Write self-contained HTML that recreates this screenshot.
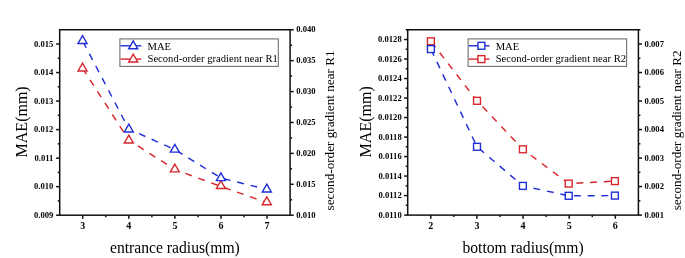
<!DOCTYPE html>
<html><head><meta charset="utf-8"><style>
html,body{margin:0;padding:0;background:#fff;}
svg{display:block;will-change:transform;filter:blur(0.25px);}
text{font-family:"Liberation Serif",serif;fill:#000;}
.tk{font-size:8.6px;font-weight:bold;}
.ti{font-size:16px;}
.xl{font-size:15.65px;}
.xt{font-size:10px;font-weight:bold;}
.lg{font-size:10.6px;}
.rt{font-size:13.2px;}
</style></head><body>
<svg width="685" height="258" viewBox="0 0 685 258">
<rect width="685" height="258" fill="#fff"/>
<rect x="59.7" y="29.75" width="230.40" height="185.45" fill="none" stroke="#111" stroke-width="1.5"/>
<line x1="82.74" y1="215.2" x2="82.74" y2="218.79999999999998" stroke="#111" stroke-width="1.5"/>
<text x="82.74" y="229.0" class="xt" text-anchor="middle">3</text>
<line x1="105.78" y1="215.2" x2="105.78" y2="217.2" stroke="#111" stroke-width="1.5"/>
<line x1="128.82" y1="215.2" x2="128.82" y2="218.79999999999998" stroke="#111" stroke-width="1.5"/>
<text x="128.82" y="229.0" class="xt" text-anchor="middle">4</text>
<line x1="151.86" y1="215.2" x2="151.86" y2="217.2" stroke="#111" stroke-width="1.5"/>
<line x1="174.90" y1="215.2" x2="174.90" y2="218.79999999999998" stroke="#111" stroke-width="1.5"/>
<text x="174.90" y="229.0" class="xt" text-anchor="middle">5</text>
<line x1="197.94" y1="215.2" x2="197.94" y2="217.2" stroke="#111" stroke-width="1.5"/>
<line x1="220.98" y1="215.2" x2="220.98" y2="218.79999999999998" stroke="#111" stroke-width="1.5"/>
<text x="220.98" y="229.0" class="xt" text-anchor="middle">6</text>
<line x1="244.02" y1="215.2" x2="244.02" y2="217.2" stroke="#111" stroke-width="1.5"/>
<line x1="267.06" y1="215.2" x2="267.06" y2="218.79999999999998" stroke="#111" stroke-width="1.5"/>
<text x="267.06" y="229.0" class="xt" text-anchor="middle">7</text>
<line x1="56.1" y1="215.20" x2="59.7" y2="215.20" stroke="#111" stroke-width="1.5"/>
<text x="53.400000000000006" y="217.85" class="tk" text-anchor="end">0.009</text>
<line x1="56.1" y1="186.67" x2="59.7" y2="186.67" stroke="#111" stroke-width="1.5"/>
<text x="53.400000000000006" y="189.32" class="tk" text-anchor="end">0.010</text>
<line x1="56.1" y1="158.14" x2="59.7" y2="158.14" stroke="#111" stroke-width="1.5"/>
<text x="53.400000000000006" y="160.79" class="tk" text-anchor="end">0.011</text>
<line x1="56.1" y1="129.61" x2="59.7" y2="129.61" stroke="#111" stroke-width="1.5"/>
<text x="53.400000000000006" y="132.26" class="tk" text-anchor="end">0.012</text>
<line x1="56.1" y1="101.08" x2="59.7" y2="101.08" stroke="#111" stroke-width="1.5"/>
<text x="53.400000000000006" y="103.73" class="tk" text-anchor="end">0.013</text>
<line x1="56.1" y1="72.55" x2="59.7" y2="72.55" stroke="#111" stroke-width="1.5"/>
<text x="53.400000000000006" y="75.20" class="tk" text-anchor="end">0.014</text>
<line x1="56.1" y1="44.02" x2="59.7" y2="44.02" stroke="#111" stroke-width="1.5"/>
<text x="53.400000000000006" y="46.67" class="tk" text-anchor="end">0.015</text>
<line x1="57.7" y1="200.93" x2="59.7" y2="200.93" stroke="#111" stroke-width="1.5"/>
<line x1="57.7" y1="172.40" x2="59.7" y2="172.40" stroke="#111" stroke-width="1.5"/>
<line x1="57.7" y1="143.87" x2="59.7" y2="143.87" stroke="#111" stroke-width="1.5"/>
<line x1="57.7" y1="115.34" x2="59.7" y2="115.34" stroke="#111" stroke-width="1.5"/>
<line x1="57.7" y1="86.81" x2="59.7" y2="86.81" stroke="#111" stroke-width="1.5"/>
<line x1="57.7" y1="58.28" x2="59.7" y2="58.28" stroke="#111" stroke-width="1.5"/>
<line x1="290.1" y1="215.20" x2="293.70000000000005" y2="215.20" stroke="#111" stroke-width="1.5"/>
<text x="296.3" y="217.85" class="tk">0.010</text>
<line x1="290.1" y1="184.29" x2="293.70000000000005" y2="184.29" stroke="#111" stroke-width="1.5"/>
<text x="296.3" y="186.94" class="tk">0.015</text>
<line x1="290.1" y1="153.38" x2="293.70000000000005" y2="153.38" stroke="#111" stroke-width="1.5"/>
<text x="296.3" y="156.03" class="tk">0.020</text>
<line x1="290.1" y1="122.47" x2="293.70000000000005" y2="122.47" stroke="#111" stroke-width="1.5"/>
<text x="296.3" y="125.12" class="tk">0.025</text>
<line x1="290.1" y1="91.57" x2="293.70000000000005" y2="91.57" stroke="#111" stroke-width="1.5"/>
<text x="296.3" y="94.22" class="tk">0.030</text>
<line x1="290.1" y1="60.66" x2="293.70000000000005" y2="60.66" stroke="#111" stroke-width="1.5"/>
<text x="296.3" y="63.31" class="tk">0.035</text>
<line x1="290.1" y1="29.75" x2="293.70000000000005" y2="29.75" stroke="#111" stroke-width="1.5"/>
<text x="296.3" y="32.40" class="tk">0.040</text>
<line x1="290.1" y1="199.75" x2="292.1" y2="199.75" stroke="#111" stroke-width="1.5"/>
<line x1="290.1" y1="168.84" x2="292.1" y2="168.84" stroke="#111" stroke-width="1.5"/>
<line x1="290.1" y1="137.93" x2="292.1" y2="137.93" stroke="#111" stroke-width="1.5"/>
<line x1="290.1" y1="107.02" x2="292.1" y2="107.02" stroke="#111" stroke-width="1.5"/>
<line x1="290.1" y1="76.11" x2="292.1" y2="76.11" stroke="#111" stroke-width="1.5"/>
<line x1="290.1" y1="45.20" x2="292.1" y2="45.20" stroke="#111" stroke-width="1.5"/>
<text x="174.90" y="252.85" class="xl" text-anchor="middle">entrance radius(mm)</text>
<text transform="translate(26.7,121.88) rotate(-90)" class="ti" text-anchor="middle">MAE(mm)</text>
<text transform="translate(333.6,130.38) rotate(-90)" class="rt" text-anchor="middle">second-order gradient near R1</text>
<polyline points="82.50,68.10 128.80,140.10 174.80,169.50 220.90,186.40 266.80,202.60" fill="none" stroke="#d8262c" stroke-width="1.45" stroke-dasharray="6.9 6.85" stroke-dashoffset="-0.15"/>
<polygon points="82.50,63.20 87.00,71.00 78.00,71.00" fill="#fff" stroke="#d8262c" stroke-width="1.4" stroke-linejoin="miter"/>
<polygon points="128.80,135.20 133.30,143.00 124.30,143.00" fill="#fff" stroke="#d8262c" stroke-width="1.4" stroke-linejoin="miter"/>
<polygon points="174.80,164.10 179.30,171.90 170.30,171.90" fill="#fff" stroke="#d8262c" stroke-width="1.4" stroke-linejoin="miter"/>
<polygon points="220.90,180.70 225.40,188.50 216.40,188.50" fill="#fff" stroke="#d8262c" stroke-width="1.4" stroke-linejoin="miter"/>
<polygon points="266.80,196.90 271.30,204.70 262.30,204.70" fill="#fff" stroke="#d8262c" stroke-width="1.4" stroke-linejoin="miter"/>
<polyline points="82.50,40.60 128.80,129.10 174.80,149.50 220.90,178.00 266.80,189.40" fill="none" stroke="#1f2ed6" stroke-width="1.45" stroke-dasharray="6.9 6.85" stroke-dashoffset="-1.15"/>
<polygon points="82.50,35.70 87.00,43.50 78.00,43.50" fill="#fff" stroke="#1f2ed6" stroke-width="1.4" stroke-linejoin="miter"/>
<polygon points="128.80,124.20 133.30,132.00 124.30,132.00" fill="#fff" stroke="#1f2ed6" stroke-width="1.4" stroke-linejoin="miter"/>
<polygon points="174.80,144.30 179.30,152.10 170.30,152.10" fill="#fff" stroke="#1f2ed6" stroke-width="1.4" stroke-linejoin="miter"/>
<polygon points="220.90,172.80 225.40,180.60 216.40,180.60" fill="#fff" stroke="#1f2ed6" stroke-width="1.4" stroke-linejoin="miter"/>
<polygon points="266.80,184.20 271.30,192.00 262.30,192.00" fill="#fff" stroke="#1f2ed6" stroke-width="1.4" stroke-linejoin="miter"/>
<rect x="119.9" y="38.9" width="158.40" height="27.50" fill="#fff" stroke="#707070" stroke-width="1.1"/>
<line x1="120.5" y1="45.8" x2="141.3" y2="45.8" stroke="#1f2ed6" stroke-width="1.4"/>
<polygon points="133.20,40.90 137.70,48.70 128.70,48.70" fill="#fff" stroke="#1f2ed6" stroke-width="1.4" stroke-linejoin="miter"/>
<text x="147.5" y="50.0" class="lg">MAE</text>
<line x1="120.5" y1="59.1" x2="141.3" y2="59.1" stroke="#d8262c" stroke-width="1.4"/>
<polygon points="133.20,54.20 137.70,62.00 128.70,62.00" fill="#fff" stroke="#d8262c" stroke-width="1.4" stroke-linejoin="miter"/>
<text x="147.5" y="62.4" class="lg">Second-order gradient near R1</text>
<rect x="407.7" y="29.75" width="230.70" height="185.35" fill="none" stroke="#111" stroke-width="1.5"/>
<line x1="430.77" y1="215.1" x2="430.77" y2="218.7" stroke="#111" stroke-width="1.5"/>
<text x="430.77" y="228.9" class="xt" text-anchor="middle">2</text>
<line x1="453.84" y1="215.1" x2="453.84" y2="217.1" stroke="#111" stroke-width="1.5"/>
<line x1="476.91" y1="215.1" x2="476.91" y2="218.7" stroke="#111" stroke-width="1.5"/>
<text x="476.91" y="228.9" class="xt" text-anchor="middle">3</text>
<line x1="499.98" y1="215.1" x2="499.98" y2="217.1" stroke="#111" stroke-width="1.5"/>
<line x1="523.05" y1="215.1" x2="523.05" y2="218.7" stroke="#111" stroke-width="1.5"/>
<text x="523.05" y="228.9" class="xt" text-anchor="middle">4</text>
<line x1="546.12" y1="215.1" x2="546.12" y2="217.1" stroke="#111" stroke-width="1.5"/>
<line x1="569.19" y1="215.1" x2="569.19" y2="218.7" stroke="#111" stroke-width="1.5"/>
<text x="569.19" y="228.9" class="xt" text-anchor="middle">5</text>
<line x1="592.26" y1="215.1" x2="592.26" y2="217.1" stroke="#111" stroke-width="1.5"/>
<line x1="615.33" y1="215.1" x2="615.33" y2="218.7" stroke="#111" stroke-width="1.5"/>
<text x="615.33" y="228.9" class="xt" text-anchor="middle">6</text>
<line x1="404.09999999999997" y1="215.10" x2="407.7" y2="215.10" stroke="#111" stroke-width="1.5"/>
<text x="401.7" y="217.75" class="tk" text-anchor="end">0.0110</text>
<line x1="404.09999999999997" y1="195.59" x2="407.7" y2="195.59" stroke="#111" stroke-width="1.5"/>
<text x="401.7" y="198.24" class="tk" text-anchor="end">0.0112</text>
<line x1="404.09999999999997" y1="176.08" x2="407.7" y2="176.08" stroke="#111" stroke-width="1.5"/>
<text x="401.7" y="178.73" class="tk" text-anchor="end">0.0114</text>
<line x1="404.09999999999997" y1="156.57" x2="407.7" y2="156.57" stroke="#111" stroke-width="1.5"/>
<text x="401.7" y="159.22" class="tk" text-anchor="end">0.0116</text>
<line x1="404.09999999999997" y1="137.06" x2="407.7" y2="137.06" stroke="#111" stroke-width="1.5"/>
<text x="401.7" y="139.71" class="tk" text-anchor="end">0.0118</text>
<line x1="404.09999999999997" y1="117.55" x2="407.7" y2="117.55" stroke="#111" stroke-width="1.5"/>
<text x="401.7" y="120.20" class="tk" text-anchor="end">0.0120</text>
<line x1="404.09999999999997" y1="98.04" x2="407.7" y2="98.04" stroke="#111" stroke-width="1.5"/>
<text x="401.7" y="100.69" class="tk" text-anchor="end">0.0122</text>
<line x1="404.09999999999997" y1="78.53" x2="407.7" y2="78.53" stroke="#111" stroke-width="1.5"/>
<text x="401.7" y="81.18" class="tk" text-anchor="end">0.0124</text>
<line x1="404.09999999999997" y1="59.02" x2="407.7" y2="59.02" stroke="#111" stroke-width="1.5"/>
<text x="401.7" y="61.67" class="tk" text-anchor="end">0.0126</text>
<line x1="404.09999999999997" y1="39.51" x2="407.7" y2="39.51" stroke="#111" stroke-width="1.5"/>
<text x="401.7" y="42.16" class="tk" text-anchor="end">0.0128</text>
<line x1="405.7" y1="205.34" x2="407.7" y2="205.34" stroke="#111" stroke-width="1.5"/>
<line x1="405.7" y1="185.83" x2="407.7" y2="185.83" stroke="#111" stroke-width="1.5"/>
<line x1="405.7" y1="166.32" x2="407.7" y2="166.32" stroke="#111" stroke-width="1.5"/>
<line x1="405.7" y1="146.81" x2="407.7" y2="146.81" stroke="#111" stroke-width="1.5"/>
<line x1="405.7" y1="127.30" x2="407.7" y2="127.30" stroke="#111" stroke-width="1.5"/>
<line x1="405.7" y1="107.79" x2="407.7" y2="107.79" stroke="#111" stroke-width="1.5"/>
<line x1="405.7" y1="88.28" x2="407.7" y2="88.28" stroke="#111" stroke-width="1.5"/>
<line x1="405.7" y1="68.77" x2="407.7" y2="68.77" stroke="#111" stroke-width="1.5"/>
<line x1="405.7" y1="49.26" x2="407.7" y2="49.26" stroke="#111" stroke-width="1.5"/>
<line x1="405.7" y1="29.75" x2="407.7" y2="29.75" stroke="#111" stroke-width="1.5"/>
<line x1="638.4" y1="215.10" x2="642.0" y2="215.10" stroke="#111" stroke-width="1.5"/>
<text x="644.6" y="217.75" class="tk">0.001</text>
<line x1="638.4" y1="186.58" x2="642.0" y2="186.58" stroke="#111" stroke-width="1.5"/>
<text x="644.6" y="189.23" class="tk">0.002</text>
<line x1="638.4" y1="158.07" x2="642.0" y2="158.07" stroke="#111" stroke-width="1.5"/>
<text x="644.6" y="160.72" class="tk">0.003</text>
<line x1="638.4" y1="129.55" x2="642.0" y2="129.55" stroke="#111" stroke-width="1.5"/>
<text x="644.6" y="132.20" class="tk">0.004</text>
<line x1="638.4" y1="101.04" x2="642.0" y2="101.04" stroke="#111" stroke-width="1.5"/>
<text x="644.6" y="103.69" class="tk">0.005</text>
<line x1="638.4" y1="72.52" x2="642.0" y2="72.52" stroke="#111" stroke-width="1.5"/>
<text x="644.6" y="75.17" class="tk">0.006</text>
<line x1="638.4" y1="44.01" x2="642.0" y2="44.01" stroke="#111" stroke-width="1.5"/>
<text x="644.6" y="46.66" class="tk">0.007</text>
<line x1="638.4" y1="200.84" x2="640.4" y2="200.84" stroke="#111" stroke-width="1.5"/>
<line x1="638.4" y1="172.33" x2="640.4" y2="172.33" stroke="#111" stroke-width="1.5"/>
<line x1="638.4" y1="143.81" x2="640.4" y2="143.81" stroke="#111" stroke-width="1.5"/>
<line x1="638.4" y1="115.30" x2="640.4" y2="115.30" stroke="#111" stroke-width="1.5"/>
<line x1="638.4" y1="86.78" x2="640.4" y2="86.78" stroke="#111" stroke-width="1.5"/>
<line x1="638.4" y1="58.27" x2="640.4" y2="58.27" stroke="#111" stroke-width="1.5"/>
<line x1="638.4" y1="29.75" x2="640.4" y2="29.75" stroke="#111" stroke-width="1.5"/>
<text x="523.05" y="252.85" class="xl" text-anchor="middle">bottom radius(mm)</text>
<text transform="translate(371.3,121.83) rotate(-90)" class="ti" text-anchor="middle">MAE(mm)</text>
<text transform="translate(681,130.32) rotate(-90)" class="rt" text-anchor="middle">second-order gradient near R2</text>
<polyline points="430.90,41.30 477.00,100.80 522.90,149.30 568.70,183.60 614.90,181.10" fill="none" stroke="#d8262c" stroke-width="1.45" stroke-dasharray="6.9 6.85" stroke-dashoffset="-0.7"/>
<rect x="427.45" y="37.85" width="6.9" height="6.9" fill="#fff" stroke="#d8262c" stroke-width="1.4"/>
<rect x="473.55" y="97.35" width="6.9" height="6.9" fill="#fff" stroke="#d8262c" stroke-width="1.4"/>
<rect x="519.45" y="145.85" width="6.9" height="6.9" fill="#fff" stroke="#d8262c" stroke-width="1.4"/>
<rect x="565.25" y="180.15" width="6.9" height="6.9" fill="#fff" stroke="#d8262c" stroke-width="1.4"/>
<rect x="611.45" y="177.65" width="6.9" height="6.9" fill="#fff" stroke="#d8262c" stroke-width="1.4"/>
<polyline points="430.90,49.10 477.00,146.80 522.90,185.90 568.70,195.80 614.90,195.60" fill="none" stroke="#1f2ed6" stroke-width="1.45" stroke-dasharray="6.9 6.85" stroke-dashoffset="-0.4"/>
<rect x="427.45" y="45.65" width="6.9" height="6.9" fill="#fff" stroke="#1f2ed6" stroke-width="1.4"/>
<rect x="473.55" y="143.35" width="6.9" height="6.9" fill="#fff" stroke="#1f2ed6" stroke-width="1.4"/>
<rect x="519.45" y="182.45" width="6.9" height="6.9" fill="#fff" stroke="#1f2ed6" stroke-width="1.4"/>
<rect x="565.25" y="192.35" width="6.9" height="6.9" fill="#fff" stroke="#1f2ed6" stroke-width="1.4"/>
<rect x="611.45" y="192.15" width="6.9" height="6.9" fill="#fff" stroke="#1f2ed6" stroke-width="1.4"/>
<rect x="468.1" y="38.9" width="158.50" height="27.50" fill="#fff" stroke="#707070" stroke-width="1.1"/>
<line x1="468.70000000000005" y1="45.8" x2="489.5" y2="45.8" stroke="#1f2ed6" stroke-width="1.4"/>
<rect x="477.95" y="42.35" width="6.9" height="6.9" fill="#fff" stroke="#1f2ed6" stroke-width="1.4"/>
<text x="495.70000000000005" y="50.0" class="lg">MAE</text>
<line x1="468.70000000000005" y1="59.1" x2="489.5" y2="59.1" stroke="#d8262c" stroke-width="1.4"/>
<rect x="477.95" y="55.65" width="6.9" height="6.9" fill="#fff" stroke="#d8262c" stroke-width="1.4"/>
<text x="495.70000000000005" y="62.4" class="lg">Second-order gradient near R2</text>
</svg>
</body></html>
